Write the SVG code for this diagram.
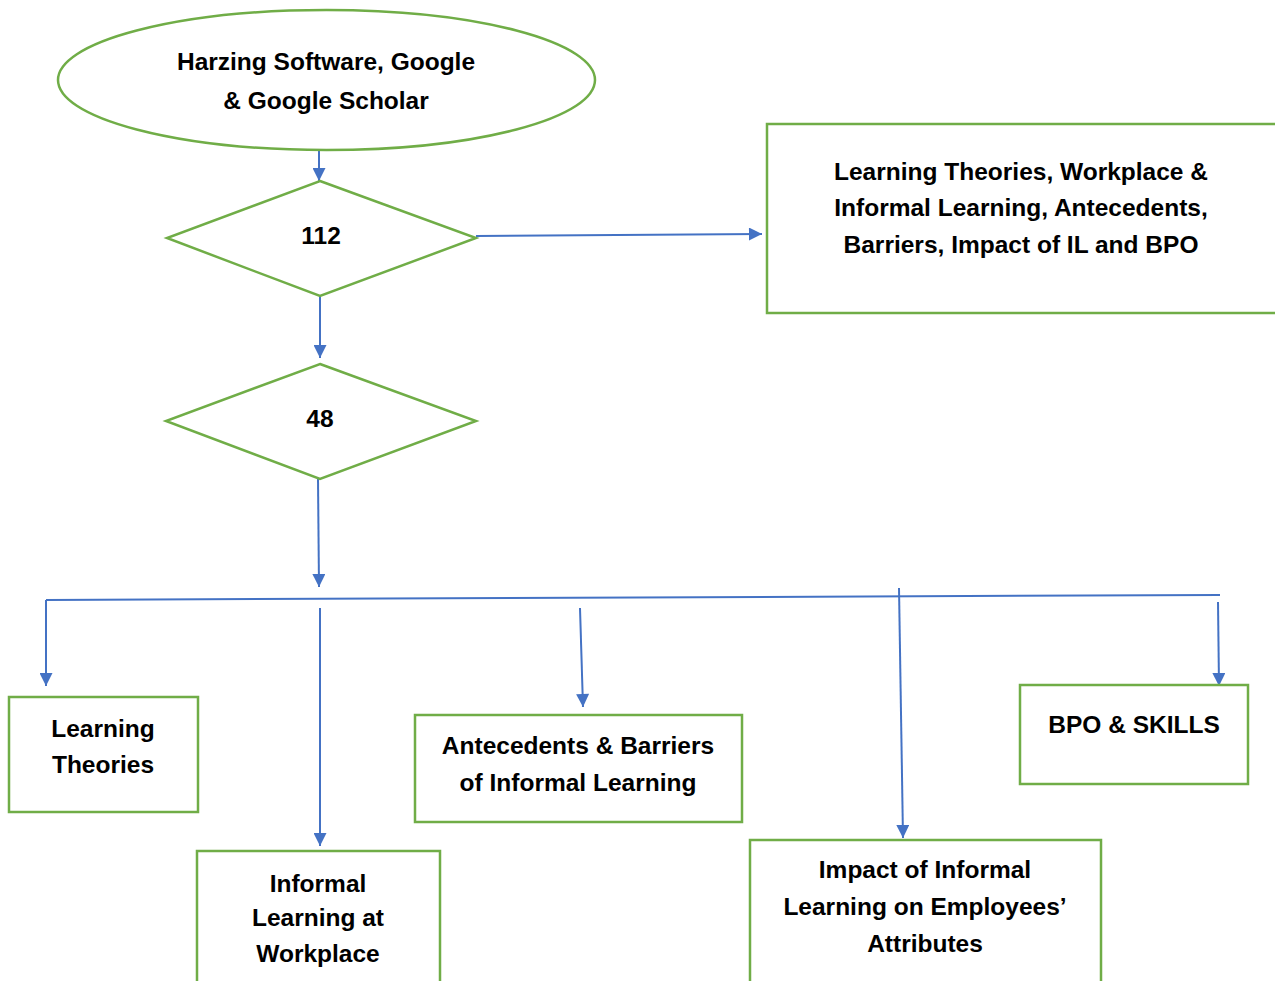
<svg xmlns="http://www.w3.org/2000/svg" width="1275" height="981" viewBox="0 0 1275 981">
<defs>
<marker id="ah" viewBox="0 0 10 10" refX="10" refY="5" markerWidth="14" markerHeight="13" markerUnits="userSpaceOnUse" orient="auto">
<path d="M0,0 L10,5 L0,10 z" fill="#4472C4"/>
</marker>
<style>
.n{fill:#fff;stroke:#70AD47;stroke-width:2.5}
.c{fill:none;stroke:#4472C4;stroke-width:2}
.a{marker-end:url(#ah)}
.t{font-family:"Liberation Sans",Arial,sans-serif;font-weight:bold;font-size:24.5px;fill:#000;text-anchor:middle}
</style>
</defs>
<rect width="1275" height="981" fill="#fff"/>
<g id="connectors">
<line class="c a" x1="319" y1="150" x2="319" y2="181"/>
<line class="c a" x1="476" y1="236" x2="762" y2="234"/>
<line class="c a" x1="320" y1="296" x2="320" y2="358"/>
<line class="c a" x1="318" y1="479" x2="319" y2="587"/>
<line class="c" x1="46" y1="600" x2="1220" y2="595" stroke-width="1.5"/>
<line class="c a" x1="46" y1="600" x2="46" y2="686"/>
<line class="c a" x1="320" y1="608" x2="320" y2="846"/>
<line class="c a" x1="580" y1="608" x2="583" y2="707"/>
<line class="c a" x1="899" y1="588" x2="903" y2="838"/>
<line class="c a" x1="1218" y1="602" x2="1219" y2="686"/>
</g>
<g id="source">
<ellipse class="n" cx="326.5" cy="80" rx="268.5" ry="70"/>
<text class="t" x="326" y="70">Harzing Software, Google</text>
<text class="t" x="326" y="109">&amp; Google Scholar</text>
</g>
<g id="d112">
<polygon class="n" points="320,181 476,238 320,296 167,238"/>
<text class="t" x="321" y="244">112</text>
</g>
<g id="topics">
<rect class="n" x="767" y="124" width="520" height="189"/>
<text class="t" x="1021" y="180">Learning Theories, Workplace &amp;</text>
<text class="t" x="1021" y="216">Informal Learning, Antecedents,</text>
<text class="t" x="1021" y="253">Barriers, Impact of IL and BPO</text>
</g>
<g id="d48">
<polygon class="n" points="320,364 476,421 320,479 166,421"/>
<text class="t" x="320" y="427">48</text>
</g>
<g id="learning-theories">
<rect class="n" x="9" y="697" width="189" height="115"/>
<text class="t" x="103" y="737">Learning</text>
<text class="t" x="103" y="773">Theories</text>
</g>
<g id="informal-workplace">
<rect class="n" x="197" y="851" width="243" height="140"/>
<text class="t" x="318" y="892">Informal</text>
<text class="t" x="318" y="926">Learning at</text>
<text class="t" x="318" y="962">Workplace</text>
</g>
<g id="antecedents">
<rect class="n" x="415" y="715" width="327" height="107"/>
<text class="t" x="578" y="754">Antecedents &amp; Barriers</text>
<text class="t" x="578" y="791">of Informal Learning</text>
</g>
<g id="impact">
<rect class="n" x="750" y="840" width="351" height="150"/>
<text class="t" x="925" y="878">Impact of Informal</text>
<text class="t" x="925" y="915">Learning on Employees’</text>
<text class="t" x="925" y="952">Attributes</text>
</g>
<g id="bpo">
<rect class="n" x="1020" y="685" width="228" height="99"/>
<text class="t" x="1134" y="733">BPO &amp; SKILLS</text>
</g>
</svg>
